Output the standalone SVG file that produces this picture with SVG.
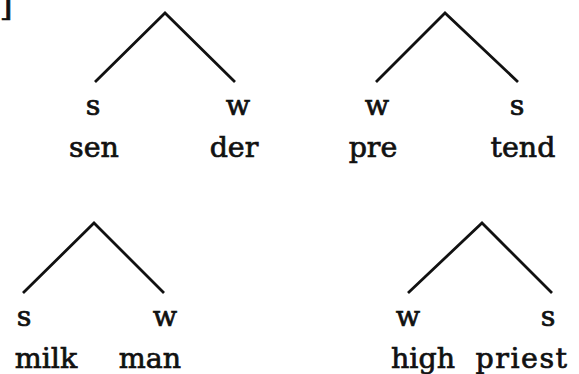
<svg xmlns="http://www.w3.org/2000/svg" width="579" height="374" viewBox="0 0 579 374">
  <style>
    .branch { fill: none; stroke: #111; stroke-width: 2.8; stroke-linecap: butt; stroke-linejoin: miter; }
    .lbl { font-family: "DejaVu Serif", "Liberation Serif", serif; font-size: 28.5px; fill: #111; stroke: #111; stroke-width: 0.7; text-anchor: middle; }
  </style>
  <rect width="579" height="374" fill="#fff"/>

  <!-- bracket fragment at the top-left edge -->
  <text class="lbl" x="6" y="15" style="font-size:34px">]</text>

  <g id="connectors">
    <polyline class="branch" points="95,82 165,13 235,82"/>
    <polyline class="branch" points="376,82 445,13 518,82"/>
    <polyline class="branch" points="23,293 94,223 164,293"/>
    <polyline class="branch" points="408,293 482,223 552,293"/>
  </g>

  <g id="sender">
    <text class="lbl" x="93" y="115">s</text>
    <text class="lbl" x="238" y="115">w</text>
    <text class="lbl" x="94" y="157">sen</text>
    <text class="lbl" x="234" y="157">der</text>
  </g>

  <g id="pretend">
    <text class="lbl" x="377" y="115">w</text>
    <text class="lbl" x="517" y="115">s</text>
    <text class="lbl" x="373" y="157">pre</text>
    <text class="lbl" x="523" y="157">tend</text>
  </g>

  <g id="milkman">
    <text class="lbl" x="46" y="368">milk</text>
    <text class="lbl" x="24" y="326">s</text>
    <text class="lbl" x="165" y="326">w</text>
    <text class="lbl" x="150" y="368">man</text>
  </g>

  <g id="highpriest">
    <text class="lbl" x="408" y="326">w</text>
    <text class="lbl" x="548" y="326">s</text>
    <text class="lbl" x="423" y="368">high</text>
    <text class="lbl" x="522" y="368" style="letter-spacing:1.5px">priest</text>
  </g>
</svg>
